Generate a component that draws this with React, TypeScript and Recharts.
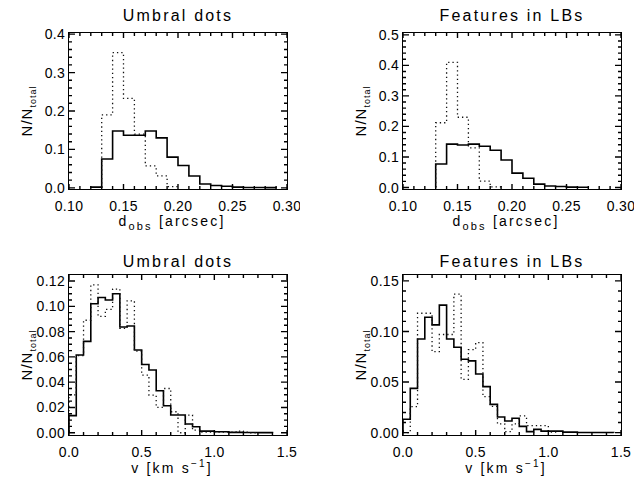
import { LineChart, Line, XAxis, YAxis } from 'recharts'

const FONT = '"Liberation Sans", Arial, sans-serif'

// observed diameter, 0.01 arcsec bins; each list starts at its own left edge
const dUdSolidStart = 0.12
const dUdSolid = [0.002, 0.075, 0.148, 0.137, 0.137, 0.148, 0.13, 0.08, 0.058, 0.031, 0.01, 0.006, 0.004, 0.002, 0.001, 0.001, 0.0005]
const dUdDottedStart = 0.13
const dUdDotted = [0.19, 0.352, 0.233, 0.14, 0.057, 0.031, 0.003]

const dLbSolidStart = 0.13
const dLbSolid = [0.077, 0.142, 0.139, 0.142, 0.135, 0.122, 0.09, 0.047, 0.03, 0.011, 0.005, 0.003, 0.001, 0.0005]
const dLbDottedStart = 0.13
const dLbDotted = [0.212, 0.41, 0.23, 0.13, 0.021, 0.002]

// velocity, 0.05 km/s bins starting at 0
const vUdSolid = [
  0.0135, 0.0615, 0.0723, 0.102, 0.107, 0.105, 0.11, 0.0836, 0.0844, 0.0654,
  0.054, 0.0496, 0.0332, 0.0214, 0.014, 0.014, 0.0069, 0.0047, 0.0013, 0.0013,
  0.0008, 0.0008, 0.0003, 0.0003, 0.0002, 0.0002, 0.0001, 0.0001,
]
const vUdDotted = [
  0.03, 0.061, 0.089, 0.117, 0.092, 0.0976, 0.1137, 0.0826, 0.1044, 0.0646,
  0.0456, 0.0298, 0.02, 0.035, 0.0166, 0.0, 0.014, 0.002, 0.0005, 0.0005,
  0.0005, 0.0005, 0.0005, 0.0013, 0.0005, 0.0,
]
const vLbSolid = [
  0.0132, 0.0438, 0.0926, 0.114, 0.1065, 0.126, 0.0926, 0.0844, 0.0725, 0.0709,
  0.058, 0.0455, 0.028, 0.0155, 0.0115, 0.0142, 0.0062, 0.001, 0.0033, 0.0015,
  0.0015, 0.0015, 0.0005, 0.0005, 0.0002, 0.0002, 0.0002, 0.0002, 0.0002,
]
const vLbDotted = [
  0.0, 0.0257, 0.118, 0.118, 0.08, 0.097, 0.097, 0.137, 0.0527, 0.082,
  0.089, 0.0356, 0.026, 0.0086, 0.001, 0.0086, 0.0165, 0.007, 0.007, 0.007, 0.0005,
]

// labelled ticks
const dTicks = [0.1, 0.15, 0.2, 0.25, 0.3]
const vTicks = [0, 0.5, 1, 1.5]
const yTicksUdD = [0, 0.1, 0.2, 0.3, 0.4]
const yTicksLbD = [0, 0.1, 0.2, 0.3, 0.4, 0.5]
const yTicksUdV = [0, 0.02, 0.04, 0.06, 0.08, 0.1, 0.12]
const yTicksLbV = [0, 0.05, 0.1, 0.15]

const W = 300
const H = 241
const ML = 9
const MR = 13
const YW = 60
const XH = 44
const PLOT_W = W - ML - MR - YW

type Pt = { x: number; y: number | null }
type TickPt = { x: number; ty: number | null }

// histogram as step points: rise from zero at the first edge, close at the last edge, drop back to zero
function steps(start: number, width: number, vals: number[]): Pt[] {
  const end = +(start + vals.length * width).toFixed(4)
  const pts: Pt[] = [{ x: start, y: 0 }]
  vals.forEach((v, i) => pts.push({ x: +(start + i * width).toFixed(4), y: v }))
  pts.push({ x: end, y: vals[vals.length - 1] }, { x: end, y: 0 })
  return pts
}

function ladder(lo: number, hi: number, step: number) {
  const n = Math.round((hi - lo) / step)
  return Array.from({ length: n + 1 }, (_, i) => +(lo + i * step).toFixed(4))
}

const isMajor = (v: number, majors: number[]) => majors.some((m) => Math.abs(m - v) < 1e-9)

// inward tick marks on all four sides, as short segments broken by nulls
function tickPts(
  xd: [number, number], yd: [number, number],
  xTicks: number[], xMajor: number[], yTicks: number[], yMajor: number[], plotH: number,
): TickPt[] {
  const perPxX = (xd[1] - xd[0]) / PLOT_W
  const perPxY = (yd[1] - yd[0]) / plotH
  const pts: TickPt[] = []
  xTicks.forEach((t) => {
    const len = (isMajor(t, xMajor) ? 5 : 3) * perPxY
    pts.push({ x: t, ty: yd[0] }, { x: t, ty: yd[0] + len }, { x: t, ty: null })
    pts.push({ x: t, ty: yd[1] }, { x: t, ty: yd[1] - len }, { x: t, ty: null })
  })
  yTicks.forEach((t) => {
    const len = (isMajor(t, yMajor) ? 6 : 3) * perPxX
    pts.push({ x: xd[0], ty: t }, { x: xd[0] + len, ty: t }, { x: xd[0], ty: null })
    pts.push({ x: xd[1], ty: t }, { x: xd[1] - len, ty: t }, { x: xd[1], ty: null })
  })
  return pts
}

type PanelDef = {
  left: number
  top: number
  title: string
  titleGap: number
  solid: Pt[]
  dotted: Pt[]
  xDomain: [number, number]
  xMajor: number[]
  xMinor: number
  xDigits: number
  yDomain: [number, number]
  yMajor: number[]
  yMinor: number
  yDigits: number
  xLabel: 'd' | 'v'
  marginTop: number
  marginBottom: number
}

type Panel = PanelDef & { xTicks: number[]; yTicks: number[]; marks: TickPt[]; plotH: number }

// everything derived once, so the chart gets stable arrays
function build(p: PanelDef): Panel {
  const xTicks = ladder(p.xDomain[0], p.xMajor[p.xMajor.length - 1], p.xMinor)
  const yTicks = ladder(0, p.yMajor[p.yMajor.length - 1], p.yMinor)
  const plotH = H - p.marginTop - p.marginBottom - XH
  return {
    ...p,
    xTicks,
    yTicks,
    plotH,
    marks: tickPts(p.xDomain, p.yDomain, xTicks, p.xMajor, yTicks, p.yMajor, plotH),
  }
}

const PANELS: Panel[] = [
  build({
    left: 0, top: 0, title: 'Umbral dots', titleGap: 12,
    solid: steps(dUdSolidStart, 0.01, dUdSolid), dotted: steps(dUdDottedStart, 0.01, dUdDotted),
    xDomain: [0.1, 0.3], xMajor: dTicks, xMinor: 0.01, xDigits: 2,
    yDomain: [-0.003, 0.403], yMajor: yTicksUdD, yMinor: 0.02, yDigits: 1,
    xLabel: 'd', marginTop: 33, marginBottom: 8,
  }),
  build({
    left: 334, top: 0, title: 'Features in LBs', titleGap: 12,
    solid: steps(dLbSolidStart, 0.01, dLbSolid), dotted: steps(dLbDottedStart, 0.01, dLbDotted),
    xDomain: [0.1, 0.3], xMajor: dTicks, xMinor: 0.01, xDigits: 2,
    yDomain: [-0.005, 0.506], yMajor: yTicksLbD, yMinor: 0.02, yDigits: 1,
    xLabel: 'd', marginTop: 33, marginBottom: 8,
  }),
  build({
    left: 0, top: 241, title: 'Umbral dots', titleGap: 8,
    solid: steps(0, 0.05, vUdSolid), dotted: steps(0, 0.05, vUdDotted),
    xDomain: [0, 1.5], xMajor: vTicks, xMinor: 0.1, xDigits: 1,
    yDomain: [-0.0018, 0.1248], yMajor: yTicksUdV, yMinor: 0.005, yDigits: 2,
    xLabel: 'v', marginTop: 34, marginBottom: 3,
  }),
  build({
    left: 334, top: 241, title: 'Features in LBs', titleGap: 8,
    solid: steps(0, 0.05, vLbSolid), dotted: steps(0, 0.05, vLbDotted),
    xDomain: [0, 1.5], xMajor: vTicks, xMinor: 0.1, xDigits: 1,
    yDomain: [-0.0023, 0.1558], yMajor: yTicksLbV, yMinor: 0.01, yDigits: 2,
    xLabel: 'v', marginTop: 34, marginBottom: 3,
  }),
]

const tickText = { fontSize: 14, fontFamily: FONT, fill: '#000', style: { letterSpacing: '0.3px' } }

function BottomTick(props: any) {
  const { x, y, payload, majors, digits } = props
  if (!isMajor(payload.value, majors)) return <g />
  return (
    <text x={x} y={y + 22} textAnchor="middle" {...tickText}>
      {payload.value.toFixed(digits)}
    </text>
  )
}

function LeftTick(props: any) {
  const { x, y, payload, majors, digits } = props
  if (!isMajor(payload.value, majors)) return <g />
  return (
    <text x={x - 4} y={y} dy="0.36em" textAnchor="end" {...tickText}>
      {payload.value.toFixed(digits)}
    </text>
  )
}

function XTitle(props: any) {
  const { viewBox, kind } = props
  if (!viewBox) return null
  const cx = viewBox.x + viewBox.width / 2 - 6
  const y = viewBox.y + (kind === 'd' ? 37 : 38)
  return (
    <text x={cx} y={y} textAnchor="middle" fontSize={14} fontFamily={FONT} fill="#000" style={{ letterSpacing: '2.2px' }}>
      {kind === 'd' ? (
        <>
          d<tspan fontSize={11} dy={4}>obs</tspan>
          <tspan dy={-4}>{'\u00a0[arcsec]'}</tspan>
        </>
      ) : (
        <>
          {'v\u00a0[km\u00a0s'}
          <tspan fontSize={10} dy={-6}>−1</tspan>
          <tspan dy={6}>]</tspan>
        </>
      )}
    </text>
  )
}

// y-axis title plus the panel heading above the plot box
function YTitle(props: any) {
  const { viewBox, title, gap } = props
  if (!viewBox) return null
  const bx = viewBox.x + viewBox.width - 37
  const cy = viewBox.y + viewBox.height / 2
  const px = viewBox.x + viewBox.width
  return (
    <g>
      <text x={bx} y={cy} transform={`rotate(-90, ${bx}, ${cy})`} textAnchor="middle" fontSize={15} fontFamily={FONT} fill="#000" style={{ letterSpacing: '1px' }}>
        N/N<tspan fontSize={9} dy={4}>total</tspan>
      </text>
      <text x={px + PLOT_W / 2} y={viewBox.y - gap} textAnchor="middle" fontSize={16} fontFamily={FONT} fill="#000" style={{ letterSpacing: '2.2px' }}>
        {title}
      </text>
    </g>
  )
}

function HistPanel({ p }: { p: Panel }) {
  return (
    <div style={{ position: 'absolute', left: p.left, top: p.top, width: W, height: H }}>
      <LineChart width={W} height={H} margin={{ top: p.marginTop, right: MR, bottom: p.marginBottom, left: ML }}>
        <XAxis
          dataKey="x"
          type="number"
          domain={p.xDomain}
          allowDataOverflow
          ticks={p.xTicks}
          interval={0}
          tickSize={0}
          tickMargin={0}
          height={XH}
          axisLine={false}
          tickLine={false}
          tick={<BottomTick majors={p.xMajor} digits={p.xDigits} />}
          label={<XTitle kind={p.xLabel} />}
        />
        <YAxis
          type="number"
          domain={p.yDomain}
          allowDataOverflow
          ticks={p.yTicks}
          interval={0}
          tickSize={0}
          tickMargin={0}
          width={YW}
          axisLine={false}
          tickLine={false}
          tick={<LeftTick majors={p.yMajor} digits={p.yDigits} />}
          label={<YTitle title={p.title} gap={p.titleGap} />}
        />
        <Line
          data={p.solid}
          dataKey="y"
          name="solid"
          type="stepAfter"
          stroke="#000"
          strokeWidth={1.6}
          dot={false}
          activeDot={false}
          isAnimationActive={false}
        />
        <Line
          data={p.dotted}
          dataKey="y"
          name="dotted"
          type="stepAfter"
          stroke="#111"
          strokeWidth={1.3}
          strokeDasharray="1.3 3"
          dot={false}
          activeDot={false}
          isAnimationActive={false}
        />
        <Line
          data={p.marks}
          dataKey="ty"
          name="ticks"
          type="linear"
          stroke="#000"
          strokeWidth={1.4}
          dot={false}
          activeDot={false}
          isAnimationActive={false}
        />
      </LineChart>
      {/* plot frame laid over the chart's plot box */}
      <div
        style={{
          position: 'absolute',
          left: ML + YW - 1,
          top: p.marginTop - 1,
          width: PLOT_W,
          height: p.plotH,
          border: '1px solid #000',
          pointerEvents: 'none',
        }}
      />
    </div>
  )
}

export default function App() {
  return (
    <div style={{ position: 'absolute', left: 0, top: 0, width: 637, height: 482, background: '#fff', overflow: 'hidden' }}>
      {PANELS.map((p, i) => (
        <HistPanel key={i} p={p} />
      ))}
    </div>
  )
}
